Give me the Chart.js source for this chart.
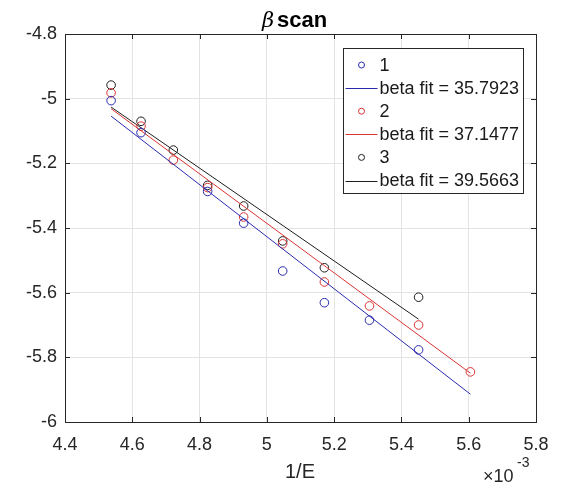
<!DOCTYPE html>
<html>
<head>
<meta charset="utf-8">
<script src="https://cdn.jsdelivr.net/npm/chart.js@4/dist/chart.umd.min.js"></script>
<style>
  html, body { margin: 0; padding: 0; background: #fff; }
  canvas { display: block; }
</style>
</head>
<body>
<canvas id="c" width="561" height="484"></canvas>
<script>
// 1/E 取值（×10^-3）
const invE = [4.537, 4.626, 4.722, 4.824, 4.931, 5.047, 5.171, 5.305, 5.451, 5.605];

// 三组测量值，null 表示该点没有
const scan1 = [-5.006, -5.105, null, -5.287, -5.385, -5.533, -5.631, -5.685, -5.777, null];
const scan2 = [-4.982, -5.085, -5.190, -5.275, -5.366, -5.449, -5.567, -5.641, -5.700, -5.845];
const scan3 = [-4.958, -5.070, -5.159, -5.268, -5.332, -5.440, -5.523, null, -5.614, null];

// 拟合直线的两个端点
const fit1X = [4.537, 5.605];
const fit1Y = [-5.054, -5.914];
const fit2X = [4.537, 5.605];
const fit2Y = [-5.031, -5.849];
const fit3X = [4.537, 5.451];
const fit3Y = [-5.026, -5.682];

const seriesLabels = ['1', 'beta fit = 35.7923', '2', 'beta fit = 37.1477', '3', 'beta fit = 39.5663'];

const xTicks = [4.4, 4.6, 4.8, 5, 5.2, 5.4, 5.6, 5.8];
const yTicks = [-4.8, -5, -5.2, -5.4, -5.6, -5.8, -6];

const BLUE = '#2a2aae';
const RED = '#da3434';
const BLACK = '#1e1e1e';
const FONT = '"Liberation Sans", Arial, Helvetica, sans-serif';

function toPoints(xs, ys) {
  const pts = [];
  xs.forEach((x, i) => {
    if (ys[i] !== null) pts.push({ x: x, y: ys[i] });
  });
  return pts;
}

// MATLAB 风格刻度文字：5 而不是 5.0
function tickText(v) {
  return String(Math.round(v * 10) / 10);
}

function markerSet(label, ys, color) {
  return {
    label: label,
    data: toPoints(invE, ys),
    showLine: false,
    pointStyle: 'circle',
    pointRadius: 4.3,
    pointBorderWidth: 1,
    pointBackgroundColor: 'rgba(0,0,0,0)',
    borderColor: color,
    pointBorderColor: color,
  };
}

function fitSet(label, xs, ys, color) {
  return {
    label: label,
    data: toPoints(xs, ys),
    showLine: true,
    borderWidth: 1,
    borderColor: color,
    pointRadius: 0,
  };
}

// 边框、向内刻度、图例、标题
const matlabLook = {
  id: 'matlabLook',
  afterDatasetsDraw(chart) {
    const ctx = chart.ctx;
    const a = chart.chartArea;
    const xs = chart.scales.x;
    const ys = chart.scales.y;
    ctx.save();

    // 刻度线
    ctx.strokeStyle = '#262626';
    ctx.lineWidth = 1;
    ctx.beginPath();
    xTicks.forEach((t) => {
      const px = Math.round(xs.getPixelForValue(t)) + 0.5;
      ctx.moveTo(px, a.bottom);
      ctx.lineTo(px, a.bottom - 5);
      ctx.moveTo(px, a.top);
      ctx.lineTo(px, a.top + 5);
    });
    yTicks.forEach((t) => {
      const py = Math.round(ys.getPixelForValue(t)) + 0.5;
      ctx.moveTo(a.left, py);
      ctx.lineTo(a.left + 5, py);
      ctx.moveTo(a.right, py);
      ctx.lineTo(a.right - 5, py);
    });
    ctx.stroke();
    ctx.strokeRect(Math.round(a.left) + 0.5, Math.round(a.top) + 0.5,
      Math.round(a.right - a.left), Math.round(a.bottom - a.top));

    // 图例
    const bx = 343.5, by = 48.5, bw = 180, bh = 145;
    ctx.fillStyle = '#fff';
    ctx.fillRect(bx, by, bw, bh);
    ctx.strokeStyle = '#262626';
    ctx.strokeRect(bx, by, bw, bh);
    ctx.font = '18px ' + FONT;
    ctx.textBaseline = 'middle';
    ctx.textAlign = 'left';
    chart.data.datasets.forEach((ds, i) => {
      const cy = by + 16.5 + i * 23.1;
      ctx.strokeStyle = ds.borderColor;
      ctx.lineWidth = 1;
      if (ds.showLine) {
        ctx.beginPath();
        ctx.moveTo(bx + 2, Math.round(cy) + 0.5);
        ctx.lineTo(bx + 34, Math.round(cy) + 0.5);
        ctx.stroke();
      } else {
        ctx.beginPath();
        ctx.arc(bx + 18, cy, 3, 0, Math.PI * 2);
        ctx.stroke();
      }
      ctx.fillStyle = '#1a1a1a';
      ctx.fillText(ds.label, bx + 36, cy + 1);
    });

    // 标题 β scan
    ctx.fillStyle = '#000';
    ctx.textBaseline = 'alphabetic';
    ctx.font = 'italic 21px "DejaVu Serif", serif';
    ctx.fillText('\u03b2', 262, 27);
    ctx.font = 'bold 22px ' + FONT;
    ctx.fillText('scan', 277, 27);

    // x 轴标题和 ×10^-3
    ctx.fillStyle = '#262626';
    ctx.font = '20px ' + FONT;
    ctx.textAlign = 'center';
    ctx.fillText('1/E', 300, 478);
    ctx.textAlign = 'left';
    ctx.font = '18px ' + FONT;
    ctx.fillText('\u00d710', 483, 482);
    ctx.font = '14px ' + FONT;
    ctx.fillText('-3', 517, 467);

    ctx.restore();
  },
};

new Chart(document.getElementById('c'), {
  type: 'scatter',
  data: {
    datasets: [
      markerSet(seriesLabels[0], scan1, BLUE),
      fitSet(seriesLabels[1], fit1X, fit1Y, BLUE),
      markerSet(seriesLabels[2], scan2, RED),
      fitSet(seriesLabels[3], fit2X, fit2Y, RED),
      markerSet(seriesLabels[4], scan3, BLACK),
      fitSet(seriesLabels[5], fit3X, fit3Y, BLACK),
    ],
  },
  options: {
    responsive: false,
    animation: false,
    events: [],
    layout: { padding: { left: 0, top: 34, right: 25, bottom: 0 } },
    plugins: {
      legend: { display: false },
      tooltip: { enabled: false },
    },
    scales: {
      x: {
        type: 'linear',
        min: 4.4,
        max: 5.8,
        afterBuildTicks: (s) => { s.ticks = xTicks.map((v) => ({ value: v })); },
        afterFit: (s) => { s.height = 62; },
        grid: { color: '#e3e3e3', drawTicks: false },
        border: { display: false },
        ticks: {
          color: '#262626',
          padding: 12,
          font: { family: FONT, size: 18 },
          maxRotation: 0,
          callback: tickText,
        },
      },
      y: {
        type: 'linear',
        min: -6,
        max: -4.8,
        afterBuildTicks: (s) => { s.ticks = yTicks.map((v) => ({ value: v })); },
        afterFit: (s) => { s.width = 65; },
        grid: { color: '#e3e3e3', drawTicks: false },
        border: { display: false },
        ticks: {
          color: '#262626',
          padding: 8,
          font: { family: FONT, size: 18 },
          callback: tickText,
        },
      },
    },
  },
  plugins: [matlabLook],
});
</script>
</body>
</html>
